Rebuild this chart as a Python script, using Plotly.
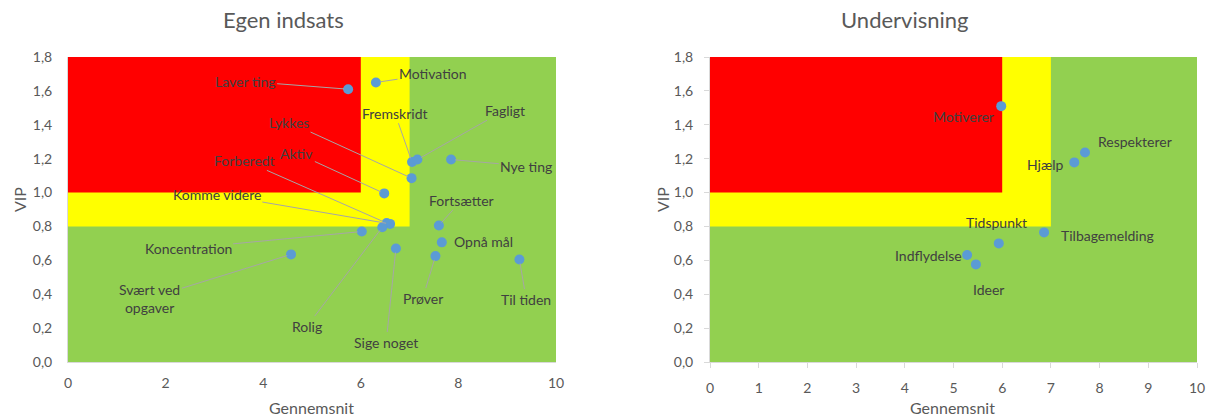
import plotly.graph_objects as go

# ---------------- data ----------------
egen_labels = ["Laver ting", "Motivation", "Fremskridt", "Fagligt", "Nye ting", "Lykkes",
               "Aktiv", "Forberedt", "Komme videre", "Rolig", "Koncentration",
               "Svært ved<br>opgaver", "Sige noget", "Fortsætter", "Opnå mål", "Prøver", "Til tiden"]
egen_x = [5.74, 6.31, 7.05, 7.16, 7.85, 7.04, 6.48, 6.53, 6.60, 6.44, 6.02, 4.57, 6.72, 7.60, 7.66, 7.53, 9.25]
egen_y = [1.61, 1.65, 1.18, 1.195, 1.195, 1.085, 0.995, 0.82, 0.815, 0.795, 0.77, 0.635, 0.67, 0.806, 0.706, 0.625, 0.605]

und_labels = ["Motiverer", "Respekterer", "Hjælp", "Tilbagemelding", "Tidspunkt", "Indflydelse", "Ideer"]
und_x = [5.98, 7.70, 7.48, 6.86, 5.93, 5.28, 5.46]
und_y = [1.51, 1.236, 1.178, 0.765, 0.70, 0.631, 0.576]

titles = ["Egen indsats", "Undervisning"]
x_title = "Gennemsnit"
y_title = "VIP"

# label placement (text centres, data units) - layout only
egen_label_pos = [(3.63, 1.657), (7.48, 1.70), (6.70, 1.468), (8.95, 1.486), (9.39, 1.156),
                  (4.53, 1.415), (4.69, 1.232), (3.61, 1.19), (3.05, 0.99), (4.90, 0.212),
                  (2.46, 0.672), (1.68, 0.377), (6.52, 0.118), (8.07, 0.955), (8.52, 0.713),
                  (7.27, 0.377), (9.39, 0.371)]
egen_no_leader = {"Opnå mål"}
und_label_pos = [(5.20, 1.45), (8.72, 1.30), (6.88, 1.167), (8.17, 0.749), (5.89, 0.825),
                 (4.48, 0.63), (5.71, 0.425)]

FONT = "Lato"
GRAY = "#595959"
LABEL = "#404040"

fig = go.Figure()
fig.add_trace(go.Scatter(x=egen_x, y=egen_y, mode="markers", xaxis="x", yaxis="y",
                         marker=dict(color="#5b9bd5", size=10), showlegend=False, hoverinfo="skip"))
fig.add_trace(go.Scatter(x=und_x, y=und_y, mode="markers", xaxis="x2", yaxis="y2",
                         marker=dict(color="#5b9bd5", size=10), showlegend=False, hoverinfo="skip"))

shapes = []
for xr, yr in (("x", "y"), ("x2", "y2")):
    shapes.append(dict(type="rect", xref=xr, yref=yr, x0=0, x1=10, y0=0, y1=1.8,
                       fillcolor="#92d050", line=dict(width=0), layer="below"))
    shapes.append(dict(type="rect", xref=xr, yref=yr, x0=0, x1=7, y0=0.8, y1=1.8,
                       fillcolor="#ffff00", line=dict(width=0), layer="below"))
    shapes.append(dict(type="rect", xref=xr, yref=yr, x0=0, x1=6, y0=1.0, y1=1.8,
                       fillcolor="#ff0000", line=dict(width=0), layer="below"))

annotations = []
for lab, px, py, (lx, ly) in zip(egen_labels, egen_x, egen_y, egen_label_pos):
    if lab in egen_no_leader:
        annotations.append(dict(x=lx, y=ly, xref="x", yref="y", text=lab, showarrow=False,
                                font=dict(family=FONT, size=14, color=LABEL)))
    else:
        annotations.append(dict(x=px, y=py, xref="x", yref="y", ax=lx, ay=ly, axref="x", ayref="y",
                                text=lab, showarrow=True, arrowhead=0, arrowwidth=1,
                                arrowcolor="#a6a6a6", standoff=4,
                                font=dict(family=FONT, size=14, color=LABEL)))
for lab, (lx, ly) in zip(und_labels, und_label_pos):
    annotations.append(dict(x=lx, y=ly, xref="x2", yref="y2", text=lab, showarrow=False,
                            font=dict(family=FONT, size=14, color=LABEL)))

# plot area in pixels: left margin 68, right 12, top 57, bottom 54 -> 1129 x 305
W, H = 1129.0, 305.0
def px_x(p):
    return (p - 68) / W
def px_y(p):
    return (362 - p) / H

title_font = dict(family=FONT, size=22, color=GRAY)
axt_font = dict(family=FONT, size=16, color=GRAY)
for t, cx in zip(titles, (283, 905)):
    annotations.append(dict(x=px_x(cx), y=px_y(20), xref="paper", yref="paper", text=t,
                            xanchor="center", yanchor="middle", showarrow=False, font=title_font))
for cx in (311, 952):
    annotations.append(dict(x=px_x(cx), y=px_y(407), xref="paper", yref="paper", text=x_title,
                            xanchor="center", yanchor="middle", showarrow=False, font=axt_font))
for cx in (19, 662):
    annotations.append(dict(x=px_x(cx), y=px_y(200), xref="paper", yref="paper", text=y_title,
                            xanchor="center", yanchor="middle", showarrow=False, textangle=-90,
                            font=axt_font))

tickfont = dict(family=FONT, size=14, color=GRAY)
axis_common = dict(range=[0, 10], showgrid=False, zeroline=False, showline=True, linecolor="#d9d9d9",
                   tickfont=tickfont, automargin=False, ticklabelstandoff=8)
yaxis_common = dict(range=[0, 1.8], dtick=0.2, tickformat=".1f", showgrid=False, zeroline=False,
                    showline=True, linecolor="#d9d9d9", tickfont=tickfont, automargin=False)

fig.update_layout(
    width=1209, height=416, margin=dict(l=68, r=12, t=57, b=54),
    paper_bgcolor="white", plot_bgcolor="white", separators=",.",
    xaxis=dict(domain=[0.0, 488 / W], anchor="y", dtick=2, **axis_common),
    yaxis=dict(domain=[0, 1], anchor="x", ticklabelstandoff=12, **yaxis_common),
    xaxis2=dict(domain=[642 / W, 1.0], anchor="y2", dtick=1, ticks="outside", ticklen=5,
                tickcolor="#d9d9d9", **axis_common),
    yaxis2=dict(domain=[0, 1], anchor="x2", ticks="outside", ticklen=5, tickcolor="#d9d9d9",
                ticklabelstandoff=8, **yaxis_common),
    shapes=shapes, annotations=annotations,
)

fig.write_html("out.html", config={"displayModeBar": False},
               post_script="document.body.style.margin='0';document.body.style.overflow='hidden';")
